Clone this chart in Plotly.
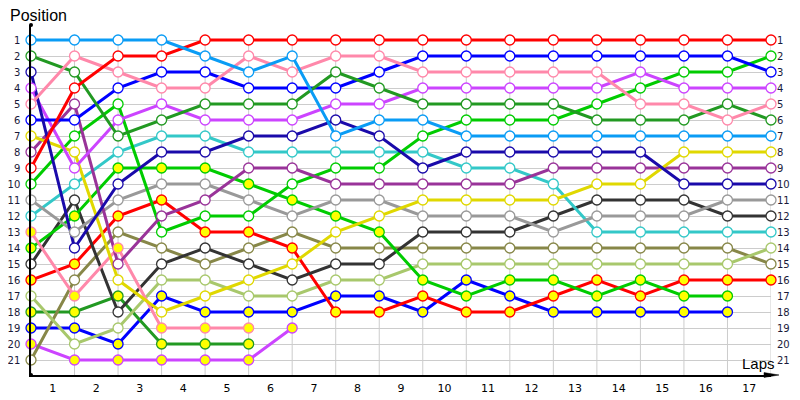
import plotly.graph_objects as go

# ---- data -------------------------------------------------------------
laps = list(range(18))                       # lap boundaries 0..17
lap_labels = [str(i) for i in range(1, 18)]  # labels shown between boundaries
lap_label_pos = [i + 0.5 for i in range(17)]
position_ticks = list(range(1, 22))

N = None
sky_blue   = [1, 1, 1, 1, 2, 3, 2, 7, 6, 6, 7, 7, 7, 7, 7, 7, 7, 7]
red_a      = [9, 4, 2, 2, 1, 1, 1, 1, 1, 1, 1, 1, 1, 1, 1, 1, 1, 1]
pink_a     = [5, 2, 3, 4, 4, 2, 3, 2, 2, 3, 3, 3, 3, 3, 5, 5, 6, 5]
dkgreen_a  = [2, 3, 7, 6, 5, 5, 5, 3, 4, 5, 5, 5, 5, 6, 6, 6, 5, 6]
navy       = [3, 14, 10, 8, 8, 7, 7, 6, 7, 9, 8, 8, 8, 8, 8, 10, 10, 10]
blue_a     = [6, 6, 4, 3, 3, 4, 4, 4, 3, 2, 2, 2, 2, 2, 2, 2, 2, 3]
violet_a   = [4, 9, 6, 5, 6, 6, 6, 5, 5, 4, 4, 4, 4, 4, 3, 4, 4, 4]
yellow     = [7, 8, 16, 18, 17, 16, 15, 13, 12, 11, 11, 11, 11, 10, 10, 8, 8, 8]
purple     = [8, 5, 15, 12, 11, 9, 9, 10, 10, 10, 10, 10, 9, 9, 9, 9, 9, 9]
green_a    = [10, 7, 5, 13, 12, 12, 10, 9, 9, 7, 6, 6, 6, 5, 4, 3, 3, 2]
gray       = [11, 13, 11, 10, 10, 11, 12, 11, 11, 12, 12, 12, 13, 12, 12, 12, 11, 11]
cyan       = [12, 10, 8, 7, 7, 8, 8, 8, 8, 8, 9, 9, 10, 13, 13, 13, 13, 13]
pink_b     = [13, 17, 14, 19, 19, 19, N, N, N, N, N, N, N, N, N, N, N, N]
green_b    = [14, 12, 9, 9, 9, 10, 11, 12, 13, 16, 17, 16, 16, 17, 16, 17, 17, N]
dkgray     = [15, 11, 18, 15, 14, 15, 16, 15, 15, 13, 13, 13, 12, 11, 11, 11, 12, 12]
red_b      = [16, 15, 12, 11, 13, 13, 14, 18, 18, 17, 18, 18, 17, 16, 17, 16, 16, 16]
light_olive= [17, 20, 19, 16, 16, 17, 17, 16, 16, 15, 15, 15, 15, 15, 15, 15, 15, 14]
olive      = [21, 16, 13, 14, 15, 14, 13, 14, 14, 14, 14, 14, 14, 14, 14, 14, 14, 15]
dkgreen_b  = [18, 18, 17, 20, 20, 20, N, N, N, N, N, N, N, N, N, N, N, N]
blue_b     = [19, 19, 20, 17, 18, 18, 18, 17, 17, 18, 16, 17, 18, 18, 18, 18, 18, N]
violet_b   = [20, 21, 21, 21, 21, 21, 19, N, N, N, N, N, N, N, N, N, N, N]

# (name, positions, line colour, marker fill)
WHITE, YEL = "#ffffff", "#ffff00"
drivers = [
    ("violet_b", violet_b, "#cc44ff", YEL),
    ("blue_b", blue_b, "#0000ff", YEL),
    ("dkgreen_b", dkgreen_b, "#229922", YEL),
    ("olive", olive, "#878748", WHITE),
    ("light_olive", light_olive, "#a8c86c", WHITE),
    ("red_b", red_b, "#ff0000", YEL),
    ("dkgray", dkgray, "#333333", WHITE),
    ("green_b", green_b, "#00cc00", YEL),
    ("pink_b", pink_b, "#ff88aa", YEL),
    ("cyan", cyan, "#33c8c8", WHITE),
    ("gray", gray, "#999999", WHITE),
    ("green_a", green_a, "#00cc00", WHITE),
    ("purple", purple, "#993399", WHITE),
    ("yellow", yellow, "#e0d800", WHITE),
    ("violet_a", violet_a, "#cc44ff", WHITE),
    ("blue_a", blue_a, "#0000ff", WHITE),
    ("navy", navy, "#1a0aaa", WHITE),
    ("dkgreen_a", dkgreen_a, "#229922", WHITE),
    ("pink_a", pink_a, "#ff88aa", WHITE),
    ("red_a", red_a, "#ff0000", WHITE),
    ("sky_blue", sky_blue, "#0a9cf5", WHITE),
]

fig = go.Figure()
for name, pos, col, fill in drivers:
    fig.add_trace(go.Scatter(x=laps, y=pos, mode="lines", name=name,
                             line=dict(color=col, width=3), cliponaxis=False,
                             hoverinfo="skip", showlegend=False))
for name, pos, col, fill in drivers:
    fig.add_trace(go.Scatter(x=laps, y=pos, mode="markers", name=name,
                             marker=dict(size=10, color=fill, line=dict(color=col, width=1.3)),
                             cliponaxis=False, hoverinfo="skip", showlegend=False))
# carrier for the right-hand position axis
fig.add_trace(go.Scatter(x=[None], y=[None], yaxis="y2", showlegend=False, hoverinfo="skip"))

# The page body has an 8px default margin, so the figure is drawn at (8, 8).
# Page-pixel plot area wanted: x 31..771, y 25..375.
OFF = 8
W, H = 800 - OFF, 400 - OFF
L, T = 31 - OFF, 25 - OFF
R, B = W - (771 - OFF), H - (375 - OFF)
PW, PH = W - L - R, H - T - B
def px(xp): return (xp - OFF - L) / PW          # page px -> paper x
def py(yp): return (H - B - (yp - OFF)) / PH    # page px -> paper y

Y_BOTTOM, Y_TOP = 21.9375, 0.0625
shapes = []
for lap in laps:
    shapes.append(dict(type="line", xref="x", yref="y", x0=lap, x1=lap, y0=0.75, y1=Y_BOTTOM,
                       line=dict(color="#cccccc", width=1), layer="below"))
# x axis extension and arrow head
shapes.append(dict(type="line", xref="paper", yref="paper", x0=1, x1=px(770), y0=0, y1=0,
                   line=dict(color="black", width=1.5)))
shapes.append(dict(type="path", xref="paper", yref="paper",
                   path=f"M {px(764)},{py(372.6)} L {px(779)},{py(375)} L {px(764)},{py(377.4)} Z",
                   fillcolor="black", line=dict(color="black", width=0.5)))
# dots at the ends of the y axis
for yy in (0, 1):
    shapes.append(dict(type="circle", xref="paper", yref="paper", xsizemode="pixel", ysizemode="pixel",
                       xanchor=0, yanchor=yy, x0=-2, x1=2, y0=-2, y1=2,
                       fillcolor="black", line=dict(color="black", width=0)))

tickfont_y = dict(family="DejaVu Sans", size=10, color="#1a1a3a")
fig.update_layout(
    width=W, height=H,
    margin=dict(l=L, r=R, t=T, b=B, pad=0, autoexpand=False),
    paper_bgcolor="white", plot_bgcolor="white",
    showlegend=False,
    xaxis=dict(range=[0, 17], tickvals=lap_label_pos, ticktext=lap_labels, automargin=False,
               showgrid=False, zeroline=False, showline=True, linecolor="black", linewidth=1.5,
               ticks="", ticklabelstandoff=2,
               tickfont=dict(family="DejaVu Sans", size=11, color="black"), fixedrange=True),
    yaxis=dict(range=[Y_BOTTOM, Y_TOP], tickvals=position_ticks, automargin=False,
               showgrid=True, gridcolor="#cccccc", gridwidth=1, zeroline=False,
               showline=True, linecolor="black", linewidth=1.5, ticks="",
               ticklabelstandoff=7, tickfont=tickfont_y, fixedrange=True),
    yaxis2=dict(range=[Y_BOTTOM, Y_TOP], tickvals=position_ticks, overlaying="y", side="right",
                automargin=False, showgrid=False, zeroline=False, showline=False, ticks="",
                ticklabelstandoff=5, tickfont=tickfont_y, fixedrange=True),
    shapes=shapes,
    annotations=[
        dict(text="Position", xref="paper", yref="paper", x=px(8), y=py(15.5),
             xanchor="left", yanchor="middle", showarrow=False,
             font=dict(family="Liberation Sans", size=16, color="black")),
        dict(text="Laps", xref="paper", yref="paper", x=px(740), y=py(363.5),
             xanchor="left", yanchor="middle", showarrow=False,
             font=dict(family="Liberation Sans", size=15, color="black")),
    ],
)

fig.write_html("out.html")
